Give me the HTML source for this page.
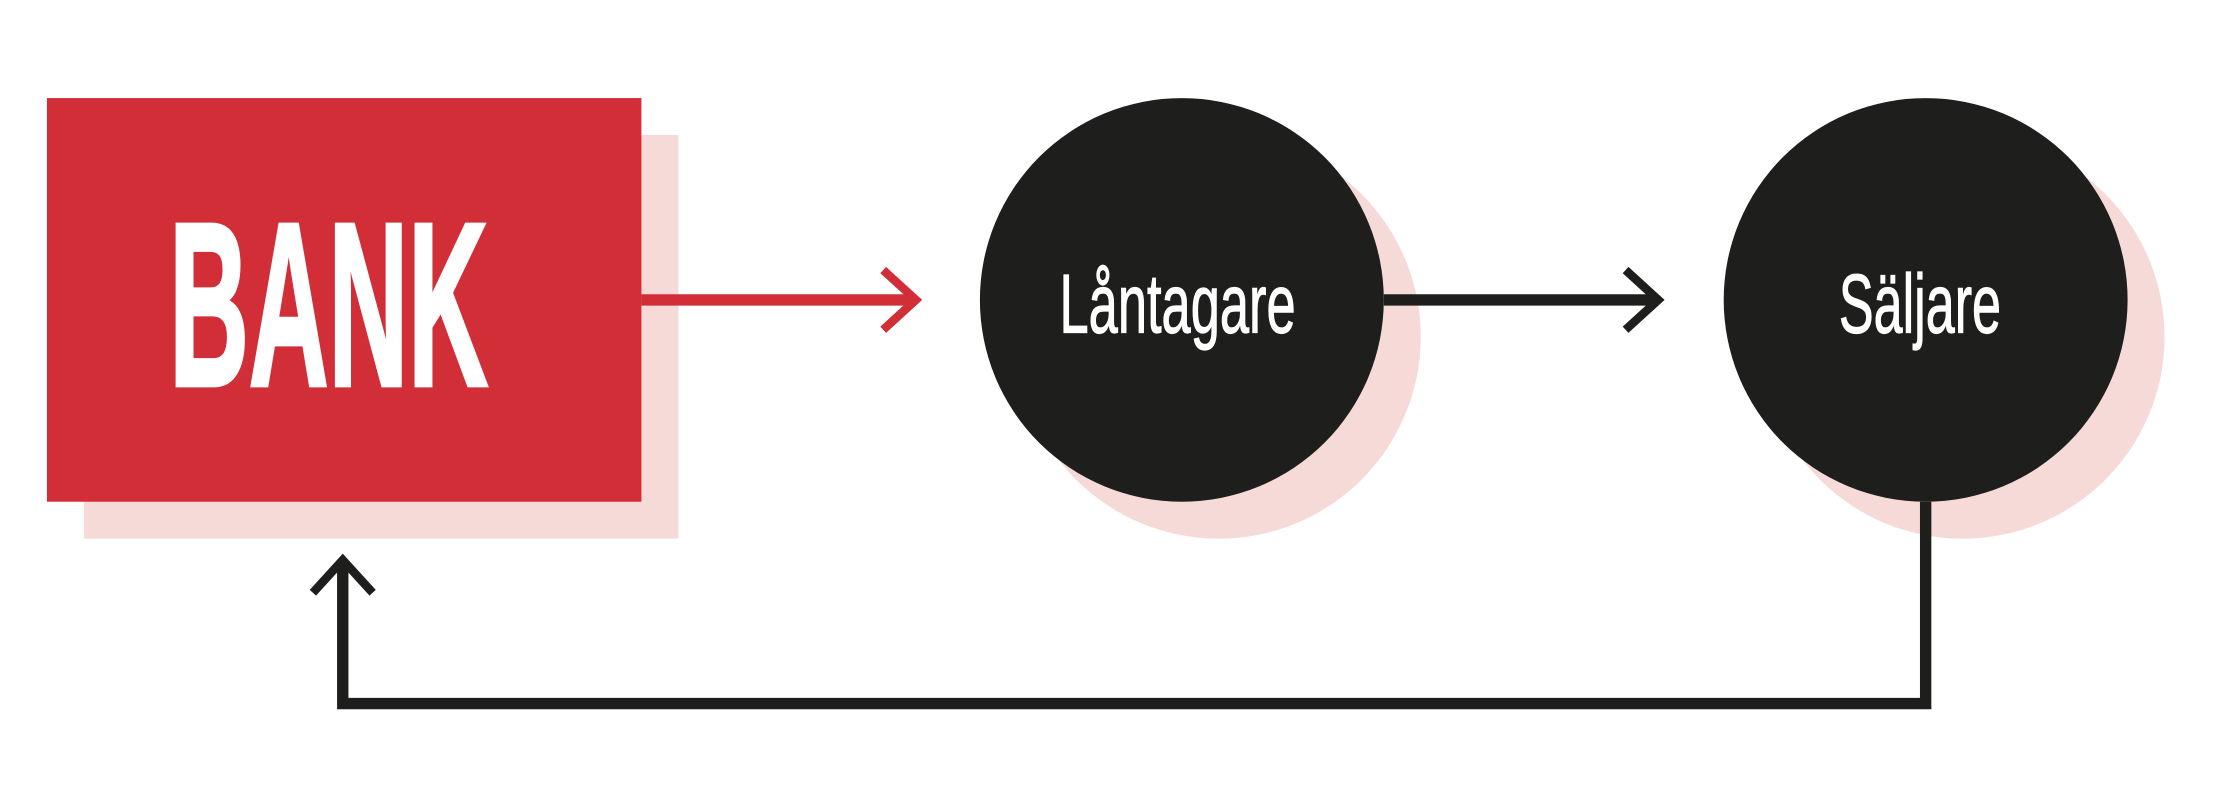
<!DOCTYPE html>
<html><head><meta charset="utf-8"><style>html,body{margin:0;padding:0;background:#fff}svg{display:block}</style></head>
<body>
<svg width="2230" height="786" viewBox="0 0 1568 553" preserveAspectRatio="none" xmlns="http://www.w3.org/2000/svg">
<rect x="0" y="0" width="1568" height="553" fill="#fff"/>
<rect x="59" y="95" width="418" height="284" fill="#f5dad8"/>
<circle cx="857" cy="237" r="142" fill="#f5dad8"/>
<circle cx="1380" cy="237" r="142" fill="#f5dad8"/>
<rect x="33" y="69" width="418" height="284" fill="#d12e37"/>
<circle cx="831" cy="211" r="142" fill="#1e1e1c"/>
<circle cx="1354" cy="211" r="142" fill="#1e1e1c"/>
<text x="119" y="271" font-family="Liberation Sans Narrow, Liberation Sans, sans-serif" font-weight="bold" font-size="164" fill="#fff" stroke="#fff" stroke-width="3" textLength="224" lengthAdjust="spacingAndGlyphs">BANK</text>
<text x="745" y="234" font-family="Liberation Sans Narrow, Liberation Sans, sans-serif" font-size="59" fill="#fff" stroke="#fff" stroke-width="0.8" textLength="166" lengthAdjust="spacingAndGlyphs">Låntagare</text>
<text x="1293" y="234" font-family="Liberation Sans Narrow, Liberation Sans, sans-serif" font-size="59" fill="#fff" stroke="#fff" stroke-width="0.8" textLength="114" lengthAdjust="spacingAndGlyphs">Säljare</text>
<line x1="451" y1="211" x2="642" y2="211" stroke="#d12e37" stroke-width="8"/>
<polyline points="621,190 644,211 621,232" fill="none" stroke="#d12e37" stroke-width="6"/>
<line x1="973" y1="211" x2="1164" y2="211" stroke="#1e1e1c" stroke-width="8"/>
<polyline points="1143,190 1166,211 1143,232" fill="none" stroke="#1e1e1c" stroke-width="6"/>
<polyline points="1354,353 1354,495 241,495 241,394" fill="none" stroke="#1e1e1c" stroke-width="8"/>
<polyline points="220,417 241,394 262,417" fill="none" stroke="#1e1e1c" stroke-width="6"/>
</svg>
</body></html>
